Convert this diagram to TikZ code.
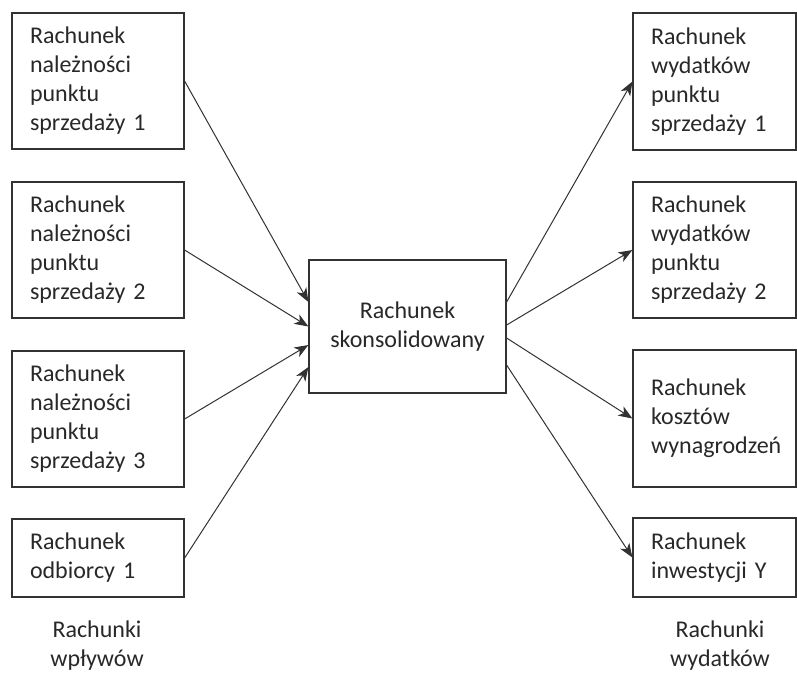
\documentclass[tikz,border=0pt]{standalone}
\usepackage{fontspec}
\setmainfont{Carlito}
\usetikzlibrary{arrows.meta,calc,positioning}
\definecolor{boxline}{RGB}{50,50,50}
\definecolor{txtgray}{RGB}{40,40,40}

\begin{document}
\begin{tikzpicture}[x=0.5pt,y=-0.5pt,>={Stealth[length=7pt,width=5.4pt,inset=2pt]},
  acct/.style={draw=boxline,line width=0.6pt,text=txtgray,inner xsep=9pt,
    inner ysep=0pt,align=left,font=\fontsize{12}{14.5}\selectfont},
  inacct/.style={acct,minimum width=86pt,text width=68pt},
  outacct/.style={acct,minimum width=81.5pt,text width=63.5pt},
  flow/.style={->,boxline,line width=0.5pt},
  grouplbl/.style={text=txtgray,align=center,font=\fontsize{12}{14.5}\selectfont}]

%% ── frame ───────────────────────────────────────────────────────────────────
\useasboundingbox (0,0) rectangle (797,677);

%% ── inflow accounts (left column) ──────────────────────────────────────────
\node[inacct,minimum height=68pt] (in1) at (98,81)
  {Rachunek\\należności\\punktu\\sprzedaży 1};
\node[inacct,minimum height=68pt] (in2) at (98,250)
  {Rachunek\\należności\\punktu\\sprzedaży 2};
\node[inacct,minimum height=68pt] (in3) at (98,419)
  {Rachunek\\należności\\punktu\\sprzedaży 3};
\node[inacct,minimum height=39pt] (in4) at (98,558)
  {Rachunek\\odbiorcy 1};
\node[grouplbl] (inlbl) at (97,646) {Rachunki\\wpływów};

%% ── consolidated account ────────────────────────────────────────────────────
\node[acct,align=center,text width=,minimum width=98.5pt,minimum height=66.5pt]
  (cons) at (407.5,326.5) {Rachunek\\skonsolidowany};

%% ── outflow accounts (right column) ─────────────────────────────────────────
\node[outacct,minimum height=68.5pt] (out1) at (714.5,81.5)
  {Rachunek\\wydatków\\punktu\\sprzedaży 1};
\node[outacct,minimum height=68pt] (out2) at (714.5,250)
  {Rachunek\\wydatków\\punktu\\sprzedaży 2};
\node[outacct,minimum height=68.5pt] (out3) at (714.5,418.5)
  {Rachunek\\kosztów\\wynagrodzeń};
\node[outacct,minimum height=39.5pt] (out4) at (714.5,557.5)
  {Rachunek\\inwestycji Y};
\node[grouplbl] (outlbl) at (720,646) {Rachunki\\wydatków};

%% ── flows into consolidated account ─────────────────────────────────────────
\draw[flow] (in1.east) -- ($(cons.west)+(0,-24.5)$);
\draw[flow] (in2.east) -- (cons.west);
\draw[flow] (in3.east) -- ($(cons.west)+(0,18.5)$);
\draw[flow] (in4.east) -- ($(cons.west)+(0,40.5)$);

%% ── flows out of consolidated account ───────────────────────────────────────
\draw[flow] ($(cons.east)+(0,-24.5)$) -- (out1.west);
\draw[flow] ($(cons.east)+(0,-1.5)$) -- (out2.west);
\draw[flow] ($(cons.east)+(0,11.5)$) -- (out3.west);
\draw[flow] ($(cons.east)+(0,38.5)$) -- (out4.west);

\end{tikzpicture}
\end{document}
